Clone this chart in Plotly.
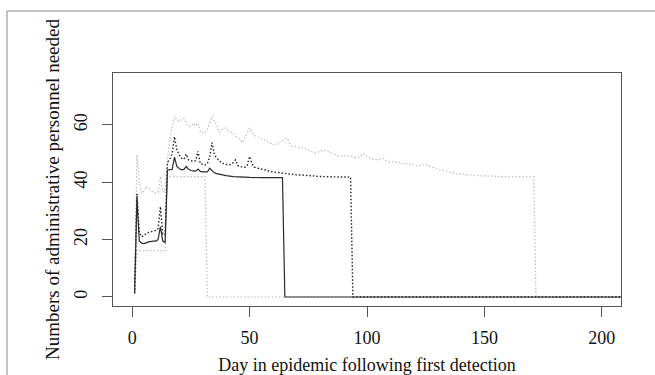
import plotly.graph_objects as go

# ---- Data ----
solid_day = [1, 2, 3, 4, 5, 7, 9, 10, 11, 12, 13, 14, 15, 16, 17, 18, 19, 20, 21, 22, 23, 24, 25,
             26, 27, 28, 29, 30, 31, 32, 33, 34, 35, 36, 38, 40, 43, 46, 50, 55, 60, 64, 65, 210]
solid_val = [1.3, 34.4, 19.5, 18.8, 18.6, 19.2, 19.5, 19.5, 20.0, 24.5, 19.5, 19.0, 44.3, 44.3, 44.5,
             48.8, 45.5, 44.8, 44.3, 44.5, 45.5, 44.5, 44.1, 44.0, 43.9, 44.6, 43.8, 43.6, 43.5, 43.6,
             44.9, 44.0, 43.3, 43.0, 42.6, 42.3, 42.0, 41.8, 41.7, 41.6, 41.6, 41.6, 0, 0]

dot_day = [1, 2, 3, 4, 5, 6, 7, 8, 9, 10, 11, 12, 13, 14, 15, 16, 17, 18, 19, 20, 21, 22, 23, 24, 25,
           26, 27, 28, 29, 30, 31, 32, 33, 34, 35, 36, 37, 38, 39, 40, 41, 42, 43, 44, 45, 46, 47, 48,
           49, 50, 51, 52, 53, 55, 57, 60, 64, 70, 76, 80, 85, 93, 94, 210]
dot_val = [1.3, 36.0, 22.5, 21.0, 21.5, 22.2, 22.5, 22.8, 23.0, 23.2, 23.8, 31.5, 22.0, 21.7, 47.0,
           48.0, 50.0, 55.9, 51.3, 49.5, 48.4, 48.0, 49.8, 47.8, 47.5, 47.3, 47.5, 50.8, 46.5, 46.2,
           46.0, 46.5, 49.0, 53.8, 49.5, 48.4, 47.5, 46.8, 46.5, 46.2, 46.0, 46.2, 46.8, 47.8, 45.8,
           45.5, 45.3, 45.2, 46.0, 49.0, 46.5, 45.3, 45.0, 44.6, 44.3, 43.6, 43.2, 42.6, 42.3, 42.0,
           41.9, 41.8, 0, 0]

upper_day = [1, 2, 3, 4, 5, 6, 7, 8, 9, 10, 11, 12, 13, 14, 15, 16, 17, 18, 19, 20, 21, 22, 23, 24,
             25, 26, 27, 28, 29, 30, 31, 32, 33, 34, 35, 36, 37, 38, 39, 40, 41, 42, 43, 44, 45, 46,
             47, 48, 49, 50, 51, 52, 53, 54, 55, 56, 57, 58, 59, 60, 61, 62, 64, 66, 67, 68, 70, 72,
             74, 76, 78, 80, 82, 84, 86, 88, 91, 93, 95, 97, 98, 100, 102, 105, 107, 109, 111, 114,
             117, 120, 122, 125, 127, 129, 131, 133, 135, 138, 140, 143, 147, 154, 161, 171, 172, 210]
upper_val = [1.3, 49.5, 40.0, 36.2, 37.0, 38.6, 38.0, 37.0, 36.7, 36.2, 36.5, 42.0, 37.0, 36.5, 48.0,
             55.0, 59.0, 63.0, 61.5, 61.2, 61.8, 62.3, 60.5, 59.5, 59.4, 60.6, 59.5, 60.6, 57.7, 57.3,
             57.1, 58.5, 60.5, 62.9, 61.0, 60.0, 57.5, 58.2, 58.9, 58.9, 58.0, 57.5, 57.1, 56.0, 55.4,
             55.0, 53.8, 55.5, 57.5, 58.9, 57.5, 56.3, 56.0, 55.4, 55.0, 54.8, 54.6, 53.8, 53.5, 53.2,
             53.0, 53.5, 54.5, 55.4, 53.6, 52.6, 52.5, 52.2, 51.7, 50.8, 50.2, 50.8, 51.2, 50.5, 49.7,
             49.1, 49.3, 49.1, 48.6, 48.8, 50.0, 49.1, 48.0, 47.8, 48.2, 47.1, 47.1, 46.8, 46.5, 45.9,
             45.6, 46.3, 45.5, 44.9, 44.3, 44.1, 43.5, 42.9, 42.9, 42.6, 42.3, 42.1, 41.9, 41.9, 0, 0]

lower_day = [1, 2, 14, 15, 31, 32, 210]
lower_val = [1.3, 16.2, 16.2, 42.0, 42.0, 0, 0]

x_ticks = [0, 50, 100, 150, 200]
y_ticks = [0, 20, 40, 60]

FONT = "Liberation Serif"
TICKFONT = dict(family=FONT, size=18, color="#111111")

fig = go.Figure()
fig.add_trace(go.Scatter(x=upper_day, y=upper_val, mode="lines",
                         line=dict(color="#bcbcbc", width=1.2, dash="1.5px,2px")))
fig.add_trace(go.Scatter(x=lower_day, y=lower_val, mode="lines",
                         line=dict(color="#bcbcbc", width=1.2, dash="1.5px,2px")))
fig.add_trace(go.Scatter(x=dot_day, y=dot_val, mode="lines",
                         line=dict(color="#222222", width=1.4, dash="1.5px,2px")))
fig.add_trace(go.Scatter(x=solid_day, y=solid_val, mode="lines",
                         line=dict(color="#2a2a2a", width=1.2)))

fig.update_layout(
    width=655, height=375,
    margin=dict(l=113, r=34, t=73, b=69, autoexpand=False),
    paper_bgcolor="white", plot_bgcolor="white",
    showlegend=False,
    font=dict(family=FONT, size=16, color="#111111"),
    xaxis=dict(range=[-8.2, 208.2], tickvals=x_ticks, ticktext=[str(v) for v in x_ticks],
               automargin=False, tickfont=TICKFONT,
               showgrid=False, zeroline=False, showline=True, mirror=True,
               linecolor="#555555", linewidth=1, ticks="outside", ticklen=10,
               tickcolor="#555555", ticklabelstandoff=5,
               title=dict(text="Day in epidemic following first detection", standoff=13,
                          font=dict(family=FONT, size=18, color="#111111"))),
    yaxis=dict(range=[-3.14, 78.1], tickvals=y_ticks, ticktext=[str(v) for v in y_ticks],
               tickangle=-90, automargin=False, tickfont=TICKFONT,
               showgrid=False, zeroline=False, showline=True, mirror=True,
               linecolor="#555555", linewidth=1, ticks="outside", ticklen=10,
               tickcolor="#555555", ticklabelstandoff=8,
               title=dict(text="Numbers of administrative personnel needed", standoff=6,
                          font=dict(family=FONT, size=19, color="#111111"))),
    shapes=[
        dict(type="line", xref="paper", yref="paper", x0=(7 - 113) / 508, x1=(655 - 113) / 508,
             y0=(306 - 11) / 233, y1=(306 - 11) / 233, line=dict(color="#888888", width=1)),
        dict(type="line", xref="paper", yref="paper", x0=(7 - 113) / 508, x1=(7 - 113) / 508,
             y0=(306 - 11) / 233, y1=(306 - 380) / 233, line=dict(color="#888888", width=1)),
    ],
)

fig.write_html("out.html", config={"displayModeBar": False},
               post_script="document.body.style.margin='0';document.body.style.padding='0';")
